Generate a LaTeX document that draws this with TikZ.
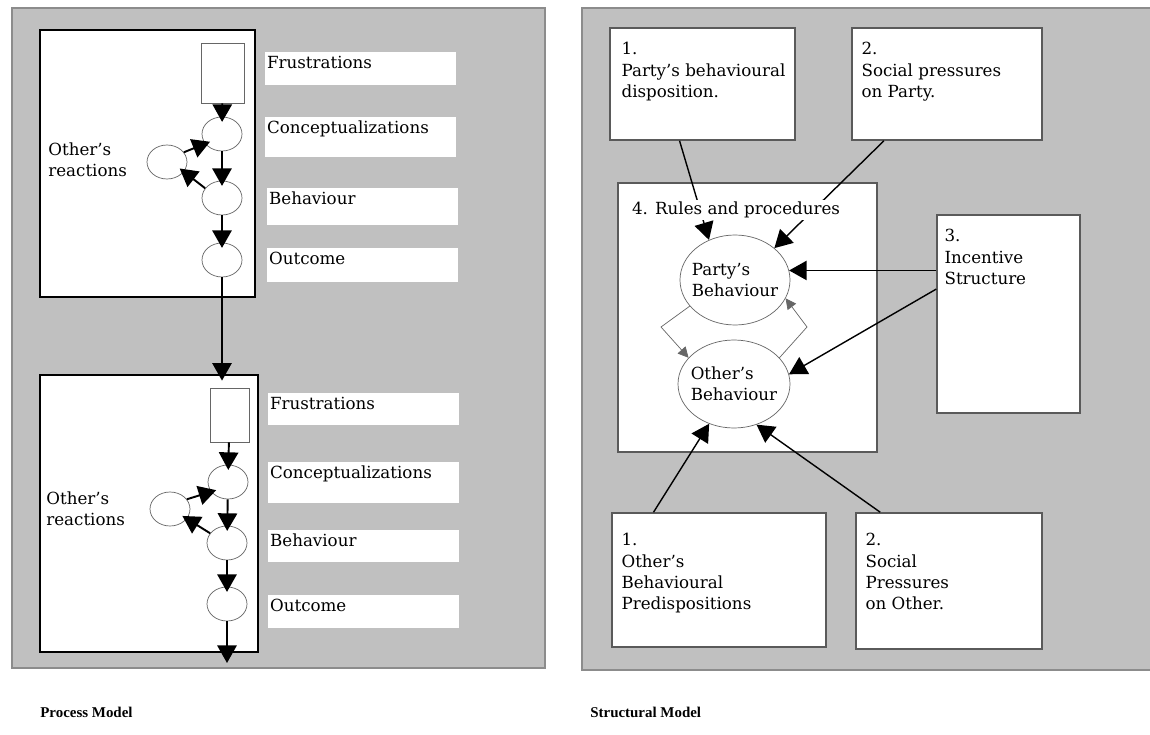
\documentclass[tikz,border=0pt]{standalone}
\usepackage{fontspec}
\setmainfont{DejaVu Serif}
\newfontfamily\headfont{Liberation Serif}
\usetikzlibrary{arrows.meta,shapes.geometric}

\definecolor{panelgray}{RGB}{192,192,192}
\definecolor{rimgray}{RGB}{140,140,140}
\definecolor{boxrim}{RGB}{90,90,90}

\tikzset{
  panel/.style={draw=rimgray,fill=panelgray,line width=1pt},
  frame/.style={draw=black,fill=white,line width=1.4pt},
  tagbox/.style={fill=white,anchor=north west,text width=3.75cm,inner xsep=1pt,inner ysep=2pt,text height=7pt,text depth=#1},
  stage/.style={draw=black!60,fill=white,thin,inner sep=0pt},
  phase/.style={ellipse,draw=black!60,thin,minimum width=0.8cm,minimum height=0.68cm,inner sep=0pt},
  flow/.style={-{Triangle[length=10pt,width=11pt]},line width=1.1pt,shorten >=-3pt},
  block/.style={draw=boxrim,fill=white,line width=0.9pt,inner sep=0pt},
  blocktext/.style={anchor=north west,align=left,inner sep=0pt},
  actor/.style={ellipse,draw=black!60,thin,align=left,inner xsep=-3pt,inner ysep=0pt},
  push/.style={-{Triangle[length=10pt,width=11pt]},line width=0.8pt},
  swing/.style={-{Triangle[length=6pt,width=6pt]},draw=black!60,thin},
  heading/.style={anchor=west,inner sep=0pt,font=\headfont\fontsize{8.5}{10}\selectfont\bfseries},
}

\begin{document}
\begin{tikzpicture}[font=\fontsize{9.5}{12}\selectfont]
  \fill[white] (0,0) rectangle (23,14.68);
  \useasboundingbox (0,0) rectangle (23,14.68);

  % process model
  \draw[panel] (0.24,1.32) rectangle (10.9,14.52);
  \draw[frame] (0.8,8.74) rectangle (5.1,14.08);
  \draw[frame] (0.8,1.64) rectangle (5.16,7.18);

  \node[stage,minimum width=0.86cm,minimum height=1.2cm] (frusA) at (4.45,13.22) {};
  \node[phase] (concA) at (4.44,12.0) {};
  \node[phase] (reacA) at (3.34,11.44) {};
  \node[phase] (behA) at (4.44,10.72) {};
  \node[phase] (outA) at (4.44,9.48) {};
  \node[anchor=west,align=left,inner sep=0pt] (othA) at (0.96,11.48) {Other's\\reactions};

  \node[tagbox=7.8pt] (tagFrA) at (5.3,13.64) {Frustrations};
  \node[tagbox=11.8pt] (tagCoA) at (5.3,12.34) {Conceptualizations};
  \node[tagbox=10pt] (tagBeA) at (5.34,10.92) {Behaviour};
  \node[tagbox=8.3pt] (tagOuA) at (5.34,9.72) {Outcome};

  \node[stage,minimum width=0.78cm,minimum height=1.08cm] (frusB) at (4.59,6.38) {};
  \node[phase] (concB) at (4.56,5.04) {};
  \node[phase] (reacB) at (3.4,4.5) {};
  \node[phase] (behB) at (4.54,3.82) {};
  \node[phase] (outB) at (4.54,2.6) {};
  \node[anchor=west,align=left,inner sep=0pt] (othB) at (0.92,4.5) {Other's\\reactions};
  \coordinate (exitB) at (4.54,1.42);

  \node[tagbox=7.2pt] (tagFrB) at (5.36,6.82) {Frustrations};
  \node[tagbox=12.3pt] (tagCoB) at (5.36,5.44) {Conceptualizations};
  \node[tagbox=7.2pt] (tagBeB) at (5.36,4.08) {Behaviour};
  \node[tagbox=7.8pt] (tagOuB) at (5.36,2.78) {Outcome};

  \draw[flow] (frusA) -- (concA);
  \draw[flow] (concA) -- (behA);
  \draw[flow] (behA) -- (outA);
  \draw[flow] (behA.150) -- (reacA.-30);
  \draw[flow] (reacA.30) -- (concA.210);
  \draw[flow,shorten >=4pt] (outA.south) -- (outA.south |- frusB.north);
  \draw[flow] (frusB) -- (concB);
  \draw[flow] (concB) -- (behB);
  \draw[flow] (behB) -- (outB);
  \draw[flow] (behB.150) -- (reacB.-30);
  \draw[flow] (reacB.30) -- (concB.210);
  \draw[flow,shorten >=0pt] (outB.south) -- (exitB);

  \node[heading] (procTitle) at (0.8,0.44) {Process Model};

  % structural model
  \draw[panel] (11.64,1.28) rectangle (23.2,14.52);
  \draw[block] (12.36,5.64) rectangle (17.54,11.02);

  \node[block,minimum width=3.7cm,minimum height=2.24cm,
    label={[blocktext,xshift=0.24cm,yshift=-0.3cm]north west:{1.\\Party's behavioural\\disposition.}}] (pone) at (14.05,13.0) {};
  \node[block,minimum width=3.8cm,minimum height=2.24cm,
    label={[blocktext,xshift=0.2cm,yshift=-0.3cm]north west:{2.\\Social pressures\\on Party.}}] (ptwo) at (18.94,13.0) {};
  \node[block,minimum width=2.86cm,minimum height=3.96cm,
    label={[blocktext,xshift=0.16cm,yshift=-0.3cm]north west:{3.\\Incentive\\Structure}}] (inc) at (20.17,8.4) {};
  \node[block,minimum width=4.28cm,minimum height=2.68cm,
    label={[blocktext,xshift=0.2cm,yshift=-0.42cm]north west:{1.\\Other's\\Behavioural\\Predispositions}}] (oone) at (14.38,3.08) {};
  \node[block,minimum width=3.72cm,minimum height=2.72cm,
    label={[blocktext,xshift=0.2cm,yshift=-0.42cm]north west:{2.\\Social\\Pressures\\on Other.}}] (otwo) at (18.98,3.06) {};

  \node[actor,minimum width=2.2cm,minimum height=1.8cm] (party) at (14.7,9.08) {Party's\\Behaviour};
  \node[actor,minimum width=2.24cm,minimum height=1.76cm] (other) at (14.68,7.0) {Other's\\Behaviour};

  \draw[push] (pone.248) -- (party.123);
  \draw[push] (ptwo.222) -- (party.39);
  \draw[push] (party.10 -| inc.west) -- (party.10);
  \draw[push] (inc.161) -- (other.10);
  \draw[push] (oone.134) -- (other.238);
  \draw[push] (otwo.135) -- (other.-61);
  \draw[swing] (party.210) -- (13.22,8.14) -- (other.150);
  \draw[swing] (other.30) -- (16.14,8.14) -- (party.-20);

  \node[anchor=west,fill=white,inner sep=1pt] (rulestext) at (12.6,10.48) {4. Rules and procedures};

  \node[heading] (structTitle) at (11.8,0.44) {Structural Model};
\end{tikzpicture}
\end{document}
